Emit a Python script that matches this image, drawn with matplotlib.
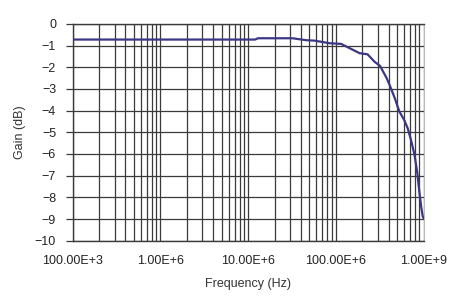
import matplotlib
matplotlib.use("Agg")
import matplotlib.pyplot as plt
from matplotlib.ticker import FixedLocator, LogLocator, NullFormatter

plt.rcParams["font.family"] = ["Liberation Sans", "DejaVu Sans"]

# Gain response
freq_hz = [1e5, 1e6, 1.2e7, 1.3e7, 3.2e7, 4.6e7, 5.7e7, 8.5e7, 1.15e8, 1.44e8,
           1.87e8, 2.3e8, 2.76e8, 3.2e8, 3.8e8, 4.1e8, 4.7e8, 5.3e8, 6.0e8,
           6.6e8, 7.2e8, 7.9e8, 8.5e8, 9.0e8, 9.4e8, 9.8e8, 1.0e9]
gain_db = [-0.72, -0.72, -0.72, -0.66, -0.66, -0.75, -0.77, -0.89, -0.92, -1.12,
           -1.35, -1.40, -1.74, -1.94, -2.50, -2.81, -3.42, -4.04, -4.42,
           -4.81, -5.35, -6.04, -6.88, -7.80, -8.42, -8.88, -8.95]

x_ticks = [1e5, 1e6, 1e7, 1e8, 1e9]
x_labels = ["100.00E+3", "1.00E+6", "10.00E+6", "100.00E+6", "1.00E+9"]
y_ticks = list(range(-10, 1))

fig = plt.figure(figsize=(4.69, 3.07), dpi=100)
ax = fig.add_axes([0.155, 0.216, 0.748, 0.706])

ax.plot(freq_hz, gain_db, color="#3b3785", linewidth=1.6, zorder=3)

ax.set_xscale("log")
ax.set_xlim(1e5, 1e9)
ax.set_ylim(-10, 0)
ax.xaxis.set_major_locator(FixedLocator(x_ticks))
ax.set_xticklabels(x_labels)
ax.xaxis.set_minor_locator(LogLocator(base=10, subs=range(2, 10)))
ax.xaxis.set_minor_formatter(NullFormatter())
ax.set_yticks(y_ticks)

ax.grid(True, which="major", axis="both", color="#3a3a3a", linewidth=0.9)
ax.grid(True, which="minor", axis="x", color="#3a3a3a", linewidth=0.9)

ax.tick_params(axis="x", which="both", length=0, pad=10, labelsize=9, labelcolor="#222222")
ax.tick_params(axis="y", length=5, width=0.9, color="#3a3a3a", pad=7,
               labelsize=9, labelcolor="#222222")

for side in ["left", "bottom", "top"]:
    ax.spines[side].set_color("#3a3a3a")
    ax.spines[side].set_linewidth(1.0)
ax.spines["right"].set_color("#bbbbbb")

ax.set_xlabel("Frequency (Hz)", fontsize=9, color="#333333", labelpad=8)
ax.set_ylabel("Gain (dB)", fontsize=9, color="#333333", labelpad=6)

fig.savefig("out.png", dpi=100)
